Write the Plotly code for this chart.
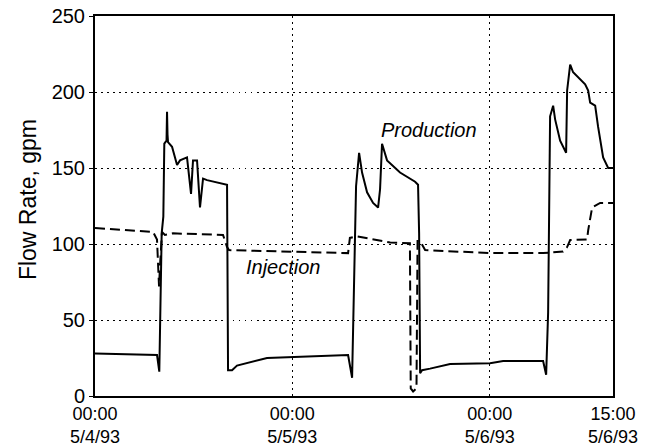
import plotly.graph_objects as go

# time in hours since 00:00 5/4/93
prod_t = [0, 7.54, 7.82, 8.11, 8.31, 8.43, 8.7, 8.76, 8.82, 8.88, 9.37, 9.98, 10.34, 11.19, 11.68,
          11.92, 12.41, 12.77, 13.14, 13.63, 16.06, 16.18, 16.67, 17.27, 20.92, 27.0, 30.78,
          31.27, 31.39, 31.75, 32.12, 32.48, 33.09, 33.82, 34.43, 34.67, 34.91, 35.52, 37.1,
          38.93, 39.29, 39.42, 39.54, 39.78, 40.75, 43.19, 48.05, 49.64, 54.5, 54.87, 55.11,
          55.35, 55.72, 55.96, 56.57, 57.3, 57.42, 57.79, 58.15, 59.61, 59.98, 60.22, 60.83,
          61.19, 61.8, 62.41, 63.0]
prod_v = [28, 27, 16, 107, 118, 166, 168, 187, 172, 167, 164, 152, 155, 157, 133,
          155, 155, 124, 143, 142, 139, 17, 17, 20, 25, 26, 27,
          12, 45, 138, 160, 147, 134, 127, 124, 136, 166, 155, 147,
          141, 139, 107, 15, 17, 18, 21, 21.5, 23, 23, 14, 55,
          184, 191, 182, 168, 160, 201, 218, 213, 205, 201, 193, 191,
          177, 157, 150, 150]

inj_t = [0, 7.06, 7.54, 7.66, 7.79, 7.9, 8.09, 8.15, 8.5, 9.49, 15.57, 16.06, 16.3, 23.7,
         30.78, 31.0, 31.87, 35.9, 38.3, 38.4, 38.69, 39.1, 39.23, 39.54, 40.15, 48.05,
         54.5, 56.93, 57.42, 57.79, 59.85, 59.98, 60.46, 61.44, 63.0]
inj_v = [110.5, 108, 103, 80, 72, 85, 105, 108, 106, 107, 106, 98, 96, 95,
         94, 104, 105, 101, 100.5, 5, 3, 5, 102, 102, 96, 94,
         94, 95, 98, 102.6, 103, 109, 124, 127, 127]

tick_vals = [0, 24, 48, 63]
tick_text = ["00:00<br>5/4/93", "00:00<br>5/5/93", "00:00<br>5/6/93", "15:00<br>5/6/93"]
y_ticks = [0, 50, 100, 150, 200, 250]

FONT = "Liberation Sans, Arial, Helvetica, sans-serif"

fig = go.Figure()
fig.add_trace(go.Scatter(x=inj_t, y=inj_v, mode="lines",
                         line=dict(color="black", width=2, dash="10px,5px"),
                         showlegend=False))
fig.add_trace(go.Scatter(x=prod_t, y=prod_v, mode="lines",
                         line=dict(color="black", width=2),
                         showlegend=False))

fig.add_annotation(x=40.6, y=175, text="<i>Production</i>", showarrow=False,
                   font=dict(size=20, color="black", family=FONT))
fig.add_annotation(x=22.9, y=85, text="<i>Injection</i>", showarrow=False,
                   font=dict(size=20, color="black", family=FONT))
fig.add_annotation(xref="paper", yref="paper", x=-0.129, y=0.516,
                   xanchor="center", yanchor="middle",
                   text="Flow Rate, gpm", textangle=-90, showarrow=False,
                   font=dict(size=23, color="black", family=FONT))

GRID_DASH = "1.5px,4.5px"

fig.update_layout(
    width=657, height=446,
    margin=dict(l=95, r=44, t=16, b=50, autoexpand=False),
    paper_bgcolor="white", plot_bgcolor="white",
    font=dict(family=FONT, size=20, color="black"),
    xaxis=dict(range=[0, 63], tickvals=tick_vals, ticktext=tick_text,
               showgrid=True, gridcolor="black", griddash=GRID_DASH, gridwidth=1,
               showline=True, linecolor="black", linewidth=2, mirror=True,
               ticks="", zeroline=False, tickfont=dict(size=18), automargin=False,
               ticklabeloverflow="allow"),
    yaxis=dict(range=[0, 250], tickvals=y_ticks,
               showgrid=True, gridcolor="black", griddash=GRID_DASH, gridwidth=1,
               showline=True, linecolor="black", linewidth=2, mirror=True,
               ticks="outside", ticklen=4, tickcolor="black",
               zeroline=False, tickfont=dict(size=20), automargin=False,
               ticklabeloverflow="allow"),
)

fig.write_html("out.html", config={"displayModeBar": False},
               post_script="document.body.style.margin='0px';document.body.style.overflow='hidden';")
